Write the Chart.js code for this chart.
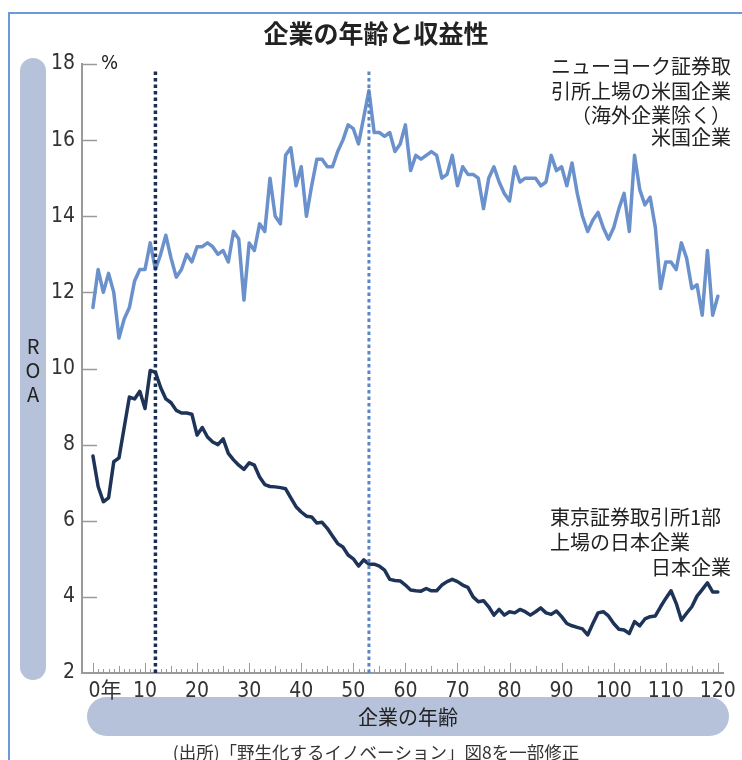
<!DOCTYPE html>
<html>
<head>
<meta charset="utf-8">
<script src="https://cdn.jsdelivr.net/npm/chart.js@4.4.1/dist/chart.umd.min.js"></script>
<style>
  body { margin: 0; background: #fff; }
  canvas { display: block; }
</style>
</head>
<body>
<canvas id="roaChart" width="742" height="760"></canvas>
<script>
// 企業の年齢（年）
const ages = Array.from({ length: 121 }, (_, i) => i);

// 米国企業 ROA（%）
const usRoa = [
  11.6, 12.6, 12.0, 12.5, 12.0, 10.8, 11.3, 11.6, 12.3, 12.6,
  12.6, 13.3, 12.6, 13.0, 13.5, 12.9, 12.4, 12.6, 13.0, 12.8,
  13.2, 13.2, 13.3, 13.2, 13.0, 13.1, 12.8, 13.6, 13.4, 11.8,
  13.3, 13.1, 13.8, 13.6, 15.0, 14.0, 13.8, 15.6, 15.8, 14.8,
  15.3, 14.0, 14.8, 15.5, 15.5, 15.3, 15.3, 15.7, 16.0, 16.4,
  16.3, 15.9, 16.6, 17.3, 16.2, 16.2, 16.1, 16.2, 15.7, 15.9,
  16.4, 15.2, 15.6, 15.5, 15.6, 15.7, 15.6, 15.0, 15.1, 15.6,
  14.8, 15.3, 15.1, 15.1, 15.0, 14.2, 15.0, 15.3, 14.9, 14.6,
  14.4, 15.3, 14.9, 15.0, 15.0, 15.0, 14.8, 14.9, 15.6, 15.2,
  15.3, 14.8, 15.4, 14.6, 14.0, 13.6, 13.9, 14.1, 13.7, 13.4,
  13.7, 14.2, 14.6, 13.6, 15.6, 14.7, 14.3, 14.5, 13.7, 12.1,
  12.8, 12.8, 12.6, 13.3, 12.9, 12.1, 12.2, 11.4, 13.1, 11.4,
  11.9
];

// 日本企業 ROA（%）
const jpRoa = [
  7.7, 6.9, 6.5, 6.6, 7.55, 7.65, 8.45, 9.25, 9.2, 9.4,
  8.95, 9.95, 9.9, 9.5, 9.2, 9.1, 8.9, 8.83, 8.83, 8.8,
  8.25, 8.45, 8.2, 8.07, 8.0, 8.15, 7.77, 7.6, 7.46, 7.35,
  7.52, 7.46, 7.15, 6.95, 6.9, 6.89, 6.87, 6.84, 6.6, 6.37,
  6.23, 6.12, 6.1, 5.94, 5.96, 5.8, 5.6, 5.4, 5.31, 5.1,
  5.0, 4.81, 4.97, 4.86, 4.86, 4.81, 4.7, 4.46, 4.43, 4.42,
  4.31, 4.18, 4.16, 4.15, 4.22, 4.16, 4.16, 4.31, 4.4, 4.46,
  4.4, 4.31, 4.25, 4.0, 3.87, 3.9, 3.74, 3.52, 3.67, 3.52,
  3.61, 3.58, 3.67, 3.61, 3.52, 3.61, 3.71, 3.58, 3.54, 3.63,
  3.48, 3.3, 3.24, 3.2, 3.16, 3.0, 3.3, 3.58, 3.61, 3.5,
  3.3, 3.15, 3.13, 3.04, 3.35, 3.24, 3.42, 3.48, 3.5, 3.74,
  3.96, 4.16, 3.83, 3.39, 3.57, 3.74, 4.02, 4.19, 4.37, 4.13,
  4.13
];

// ピーク年齢の点線（日本, 米国）
const peakAges = [12, 53];
const peakLineRange = [2, 17.8];

// 目盛り
const yTicks = [2, 4, 6, 8, 10, 12, 14, 16, 18];
const xTicks = [0, 10, 20, 30, 40, 50, 60, 70, 80, 90, 100, 110, 120];
const xTickLabels = ['\u2007\u20070年', '10', '20', '30', '40', '50', '60', '70', '80', '90', '100', '110', '120'];

const numFont = "'Liberation Sans Narrow', 'DejaVu Sans Condensed', 'Noto Sans CJK JP', sans-serif";
const jpFont = "'Noto Sans CJK JP', sans-serif";
const textColor = '#222';
const pillColor = '#b5c2da';

function toPoints(values) {
  return values.map((v, i) => ({ x: ages[i], y: v }));
}

const decorPlugin = {
  id: 'decor',
  beforeDraw(chart) {
    const ctx = chart.ctx;
    ctx.save();
    ctx.fillStyle = '#fff';
    ctx.fillRect(0, 0, chart.width, chart.height);
    // 枠線
    ctx.strokeStyle = '#6b9ad9';
    ctx.lineWidth = 2;
    ctx.beginPath();
    ctx.moveTo(9, 760);
    ctx.lineTo(9, 13);
    ctx.lineTo(742, 13);
    ctx.stroke();
    // 軸タイトルの帯
    ctx.fillStyle = pillColor;
    ctx.beginPath();
    ctx.roundRect(20, 58, 26, 622, 13);
    ctx.fill();
    ctx.beginPath();
    ctx.roundRect(87, 697, 642, 39, 19.5);
    ctx.fill();
    ctx.restore();
  },
  beforeDatasetsDraw(chart) {
    const ctx = chart.ctx;
    const { left, bottom } = chart.chartArea;
    const xs = chart.scales.x, ys = chart.scales.y;
    ctx.save();
    ctx.strokeStyle = '#9a9a9a';
    ctx.lineWidth = 1.5;
    yTicks.forEach(v => {
      const py = Math.round(ys.getPixelForValue(v)) + 0.5;
      if (v === 2) return;
      ctx.beginPath();
      ctx.moveTo(left, py);
      ctx.lineTo(left + 15, py);
      ctx.stroke();
    });
    ctx.lineWidth = 1;
    ages.forEach(a => {
      const px = Math.round(xs.getPixelForValue(a)) + 0.5;
      const len = a % 10 === 0 ? 10 : (a % 5 === 0 ? 7 : 4);
      ctx.beginPath();
      ctx.moveTo(px, bottom);
      ctx.lineTo(px, bottom - len);
      ctx.stroke();
    });
    ctx.restore();
  },
  afterDraw(chart) {
    const ctx = chart.ctx;
    const ys = chart.scales.y;
    ctx.save();
    ctx.fillStyle = textColor;
    ctx.textBaseline = 'middle';

    ctx.font = 'bold 25px ' + jpFont;
    ctx.textAlign = 'center';
    ctx.fillText('企業の年齢と収益性', 376, 33);

    ctx.font = '20px ' + numFont;
    ctx.textAlign = 'left';
    ctx.fillText('%', 101, ys.getPixelForValue(18));

    ctx.font = '20px ' + jpFont;
    ctx.textAlign = 'center';
    ['R', 'O', 'A'].forEach((c, i) => ctx.fillText(c, 33, 346 + i * 24));

    ctx.font = '20px ' + jpFont;
    ctx.fillText('企業の年齢', 408, 717);

    ctx.font = '17.5px ' + jpFont;
    ctx.fillStyle = '#333';
    ctx.fillText('(出所)「野生化するイノベーション」図8を一部修正', 376, 752);

    ctx.fillStyle = textColor;
    ctx.font = '20px ' + jpFont;
    ctx.textAlign = 'right';
    ctx.fillText('ニューヨーク証券取', 731, 66);
    ctx.fillText('引所上場の米国企業', 731, 91);
    ctx.fillText('（海外企業除く）', 731, 115);
    ctx.fillText('米国企業', 731, 137);

    ctx.textAlign = 'left';
    ctx.fillText('東京証券取引所1部', 550, 517);
    ctx.fillText('上場の日本企業', 550, 542);
    ctx.textAlign = 'right';
    ctx.fillText('日本企業', 731, 567);
    ctx.restore();
  }
};

new Chart(document.getElementById('roaChart'), {
  type: 'line',
  data: {
    datasets: [
      {
        label: '日本ピーク',
        data: peakLineRange.map(v => ({ x: peakAges[0], y: v })),
        borderColor: '#1b2f55',
        borderWidth: 3.5,
        borderDash: [3.5, 3],
        pointRadius: 0,
        order: 0
      },
      {
        label: '米国ピーク',
        data: peakLineRange.map(v => ({ x: peakAges[1], y: v })),
        borderColor: '#5a86c5',
        borderWidth: 3,
        borderDash: [3.5, 3],
        pointRadius: 0,
        order: 0
      },
      {
        label: '米国企業',
        data: toPoints(usRoa),
        borderColor: '#6a91cb',
        borderWidth: 3.5,
        borderJoinStyle: 'round',
        borderCapStyle: 'round',
        pointRadius: 0,
        tension: 0,
        order: 2
      },
      {
        label: '日本企業',
        data: toPoints(jpRoa),
        borderColor: '#1d3358',
        borderWidth: 3.5,
        borderJoinStyle: 'round',
        borderCapStyle: 'round',
        pointRadius: 0,
        tension: 0,
        order: 1
      }
    ]
  },
  options: {
    responsive: false,
    animation: false,
    layout: { padding: { left: 0, right: 15, top: 64, bottom: 57 } },
    plugins: {
      legend: { display: false },
      tooltip: { enabled: false }
    },
    scales: {
      x: {
        type: 'linear',
        min: -2.1,
        max: 121,
        grid: { display: false, drawTicks: false },
        border: { display: true, color: '#9a9a9a', width: 2 },
        afterBuildTicks: s => { s.ticks = xTicks.map(v => ({ value: v })); },
        afterFit: s => { s.height = 30; },
        ticks: {
          autoSkip: false,
          maxRotation: 0,
          padding: 6,
          color: '#333',
          font: { family: numFont, size: 21 },
          callback: (v, i) => xTickLabels[i]
        }
      },
      y: {
        min: 2,
        max: 18,
        grid: { display: false, drawTicks: false },
        border: { display: true, color: '#9a9a9a', width: 2 },
        afterBuildTicks: s => { s.ticks = yTicks.map(v => ({ value: v })); },
        afterFit: s => { s.width = 82; },
        ticks: {
          padding: 7,
          color: '#333',
          font: { family: numFont, size: 21 }
        }
      }
    }
  },
  plugins: [decorPlugin]
});
</script>
</body>
</html>
